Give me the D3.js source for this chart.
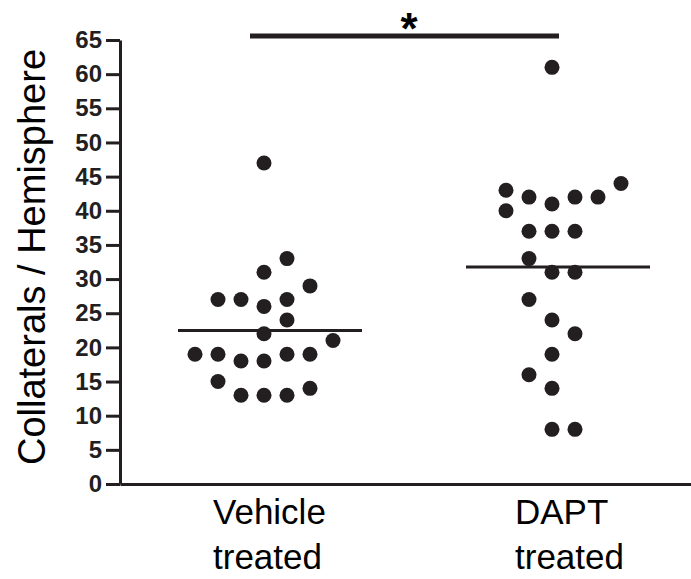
<!DOCTYPE html>
<html lang="en">
  <head>
    <meta charset="utf-8">
    <title>Collaterals per hemisphere</title>
    <script src="https://cdn.jsdelivr.net/npm/d3@7"></script>
    <style>
      body { margin: 0; background: #fff; }
      svg { font-family: "Liberation Sans", Arial, Helvetica, sans-serif; }
      .axis path, .axis line { stroke: #231f20; stroke-width: 3; }
      .axis text { font-size: 24px; font-weight: bold; fill: #231f20; }
      .dot { fill: #231f20; }
      .meanLine { stroke: #231f20; stroke-width: 3; }
      .sigBar { stroke: #231f20; stroke-width: 5; }
    </style>
  </head>
  <body>
    <script>
      // groups
      var categories = ["Vehicle treated", "DAPT treated"];
      var labelLines = [["Vehicle", "treated"], ["DAPT", "treated"]];

      // values, slot = sideways position in the dot cloud
      var vehicleValues = [47, 33, 31, 29, 27, 27, 26, 27, 24, 22, 21, 19, 19, 18, 18, 19, 19, 15, 13, 13, 13, 14];
      var vehicleSlots  = [ 0,  1,  0,  2, -2, -1,  0,  1,  1,  0,  3, -3, -2, -1,  0,  1,  2, -2, -1,  0,  1,  2];

      var daptValues = [61, 43, 42, 41, 42, 42, 44, 40, 37, 37, 37, 33, 31, 31, 27, 24, 22, 19, 16, 14, 8, 8];
      var daptSlots  = [ 0, -2, -1,  0,  1,  2,  3, -2, -1,  0,  1, -1,  0,  1, -1,  0,  1,  0, -1,  0, 0, 1];

      var yTicks = d3.range(0, 66, 5);
      var yLabel = "Collaterals / Hemisphere";
      var sigLabel = "*";

      var w = 691, h = 579;
      var padLeft = 120, padTop = 40, axisY = 484;

      var groups = [
        { cat: categories[0], values: vehicleValues, slots: vehicleSlots },
        { cat: categories[1], values: daptValues, slots: daptSlots }
      ];

      var svg = d3.select("body").append("svg")
                  .attr("width", w)
                  .attr("height", h);

      var yScale = d3.scaleLinear()
                     .domain([0, 65])
                     .range([axisY, padTop]);

      var xScale = d3.scalePoint()
                     .domain(categories)
                     .range([padLeft, w + 5])
                     .padding(0.5);

      var slotScale = d3.scaleLinear()
                        .domain([0, 1])
                        .range([0, 23]);

      var labelScale = d3.scalePoint()
                         .domain(categories)
                         .range([213, 515]);

      // x axis: plain line, no ticks
      var xAxis = d3.axisBottom(d3.scaleLinear().range([padLeft, w]))
                    .tickValues([])
                    .tickSizeOuter(0);
      svg.append("g")
         .attr("class", "x axis")
         .attr("transform", "translate(0," + axisY + ")")
         .call(xAxis);

      var yAxis = d3.axisLeft(yScale)
                    .tickValues(yTicks)
                    .tickSize(14)
                    .tickSizeOuter(0)
                    .tickPadding(4);
      svg.append("g")
         .attr("class", "y axis")
         .attr("transform", "translate(" + padLeft + ",0)")
         .call(yAxis);

      svg.append("text")
         .attr("transform", "translate(45,257) rotate(-90)")
         .attr("text-anchor", "middle")
         .style("font-size", "38px")
         .text(yLabel);

      // category labels
      categories.forEach(function (c, i) {
        var t = svg.append("text")
                   .attr("x", labelScale(c))
                   .attr("y", 524)
                   .style("font-size", "35px");
        labelLines[i].forEach(function (line, j) {
          t.append("tspan")
           .attr("x", labelScale(c))
           .attr("dy", j === 0 ? 0 : 45)
           .text(line);
        });
      });

      // dots
      groups.forEach(function (g) {
        var pts = g.values.map(function (v, i) { return { v: v, s: g.slots[i] }; });
        svg.append("g").selectAll("circle")
           .data(pts)
           .enter()
           .append("circle")
           .attr("class", "dot")
           .attr("cx", function (d) { return xScale(g.cat) + slotScale(d.s); })
           .attr("cy", function (d) { return yScale(d.v); })
           .attr("r", 7.5);

        var m = d3.mean(g.values);
        svg.append("line")
           .attr("class", "meanLine")
           .attr("x1", xScale(g.cat) - 86)
           .attr("x2", xScale(g.cat) + 98)
           .attr("y1", yScale(m))
           .attr("y2", yScale(m));
      });

      // significance bar
      svg.append("line")
         .attr("class", "sigBar")
         .attr("x1", xScale(categories[0]) - 14)
         .attr("x2", xScale(categories[1]) + 7)
         .attr("y1", 36)
         .attr("y2", 36);

      svg.append("text")
         .attr("x", (xScale(categories[0]) + xScale(categories[1])) / 2 + 1)
         .attr("y", 44)
         .attr("text-anchor", "middle")
         .style("font-size", "44px")
         .style("font-weight", "bold")
         .text(sigLabel);
    </script>
  </body>
</html>
